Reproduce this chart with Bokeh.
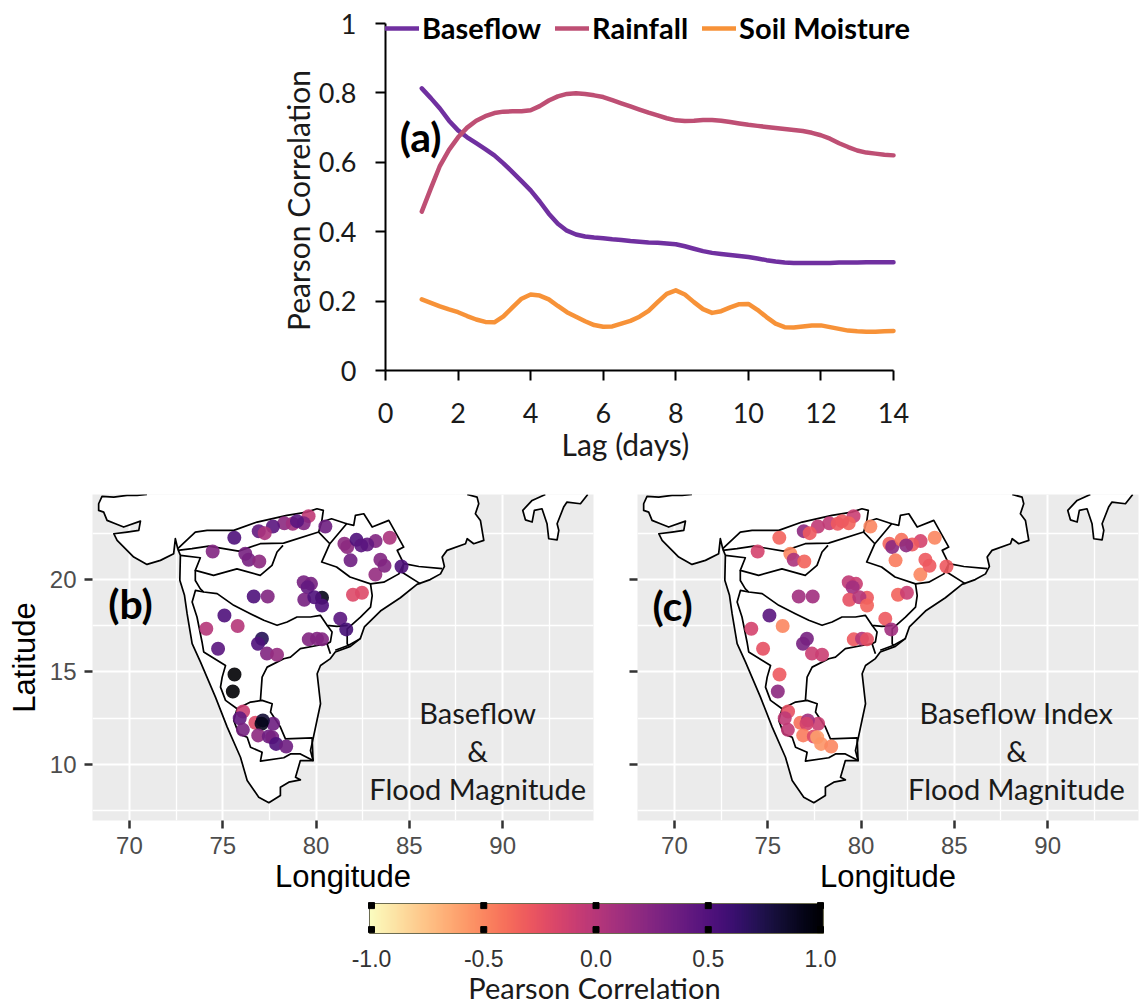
from bokeh.embed import file_html
from bokeh.resources import INLINE
from bokeh.plotting import figure
from bokeh.layouts import column, row
from bokeh.models import (FixedTicker, Label, Legend, LegendItem, LinearColorMapper, Range1d)
from bokeh.palettes import Magma256
from bokeh.transform import transform
import numpy as np

# ---- panel (a): lagged correlation, read at quarter-day steps
LAG = [1, 1.25, 1.5, 1.75, 2, 2.25, 2.5, 2.75, 3, 3.25, 3.5, 3.75, 4, 4.25, 4.5, 4.75, 5, 5.25, 5.5, 5.75, 6, 6.25, 6.5, 6.75, 7, 7.25, 7.5, 7.75, 8, 8.25, 8.5, 8.75, 9, 9.25, 9.5, 9.75, 10, 10.25, 10.5, 10.75, 11, 11.25, 11.5, 11.75, 12, 12.25, 12.5, 12.75, 13, 13.25, 13.5, 13.75, 14]
BASEFLOW = [.813, .785, .755, .72, .692, .672, .655, .638, .62, .597, .572, .546, .519, .487, .452, .423, .403, .392, .386, .383, .381, .378, .376, .373, .371, .369, .368, .366, .364, .358, .351, .344, .339, .336, .333, .33, .327, .323, .318, .314, .311, .31, .31, .31, .31, .31, .311, .311, .311, .312, .312, .312, .312]
RAINFALL = [.458, .525, .59, .636, .672, .70, .72, .733, .742, .746, .747, .747, .75, .762, .778, .79, .797, .799, .797, .793, .788, .779, .77, .761, .752, .743, .735, .727, .721, .719, .72, .722, .722, .72, .716, .712, .708, .705, .702, .699, .696, .693, .69, .685, .678, .668, .655, .644, .634, .628, .625, .622, .62]
SOIL = [.205, .195, .185, .176, .168, .157, .147, .14, .139, .156, .182, .207, .219, .216, .205, .186, .168, .155, .142, .131, .126, .127, .135, .143, .155, .172, .197, .221, .231, .219, .197, .177, .166, .171, .182, .191, .192, .175, .154, .135, .125, .124, .127, .13, .13, .125, .12, .115, .113, .112, .112, .113, .114]
X_TICKS = [0, 2, 4, 6, 8, 10, 12, 14]
Y_TICKS = [0, 0.2, 0.4, 0.6, 0.8, 1]
Y_LABELS = ["0", "0.2", "0.4", "0.6", "0.8", "1"]

# ---- panels (b), (c): stations and the correlation at each
ST_LON = [79.60, 80.50, 78.30, 78.75, 79.34, 78.98, 77.69, 76.93, 77.25, 75.62, 74.46, 76.21, 76.39, 76.96, 79.34, 79.73, 79.55, 79.37, 80.32, 79.91, 80.32, 76.66, 77.41, 75.09, 74.12, 75.80, 77.10, 76.89, 74.75, 77.37, 77.91, 79.61, 80.05, 80.32, 81.30, 81.62, 81.98, 82.46, 83.18, 83.95, 83.19, 81.52, 81.67, 82.17, 82.74, 82.42, 81.85, 83.45, 83.67, 84.58, 75.63, 75.54, 76.09, 75.91, 76.08, 76.75, 77.70, 77.15, 77.08, 76.90, 77.47, 77.65, 77.86, 78.40]
ST_LAT = [23.42, 22.86, 23.04, 23.01, 23.04, 23.15, 22.86, 22.61, 22.50, 22.25, 21.51, 21.39, 21.06, 20.97, 19.85, 19.76, 19.58, 18.90, 19.01, 19.04, 18.59, 19.08, 19.08, 18.05, 17.33, 17.48, 16.79, 16.52, 16.25, 15.99, 15.93, 16.76, 16.80, 16.76, 17.88, 17.30, 19.17, 19.28, 20.26, 22.25, 22.07, 21.93, 21.75, 22.14, 21.89, 21.84, 21.03, 21.06, 20.74, 20.70, 14.86, 13.94, 12.86, 12.50, 11.87, 12.25, 12.20, 12.38, 12.20, 11.57, 11.51, 11.47, 11.11, 10.97]
R_BASEFLOW = [-.05, .35, .2, .1, .25, .45, .45, .4, .05, .5, .25, .3, .3, .2, .3, .3, .4, .3, .9, .5, .5, .5, .25, .5, 0, 0, .7, .5, .45, .25, .15, .25, .25, .25, .45, .55, -.2, -.2, .15, .05, .25, .2, .2, .5, .4, .45, .35, .25, .25, .5, 1, 1, -.1, .4, .3, -.2, .35, .8, .9, .2, .35, .3, .5, .35]
R_BFI = [-.1, -.5, -.05, -.3, -.35, -.3, -.05, .2, -.3, -.35, -.15, -.5, .05, -.35, -.05, -.1, .1, -.25, -.3, 0, -.35, .1, .1, .45, -.15, -.5, .3, .3, -.25, -.1, -.1, -.3, 0, -.25, -.3, .1, -.35, -.1, -.5, -.5, -.15, -.35, .2, -.4, -.3, .2, -.45, -.3, -.3, -.3, -.3, .2, -.25, -.05, -.05, -.4, -.1, .1, -.15, -.45, -.2, -.6, -.55, -.5]

COAST_LON = [70.94, 70.41, 69.87, 69.16, 68.53, 68.35, 68.35, 68.62, 68.80, 69.25, 69.69, 70.59, 70.50, 69.87, 69.16, 69.34, 70.23, 70.94, 71.66, 72.37, 72.46, 72.59, 72.73, 72.70, 72.95, 73.09, 73.36, 73.81, 74.61, 75.24, 75.95, 76.31, 76.93, 77.47, 78.09, 78.09, 78.54, 79.16, 78.90, 79.16, 79.84, 79.70, 79.84, 80.24, 80.06, 80.24, 80.77, 81.03, 81.84, 82.37, 82.59, 83.45, 84.52, 85.41, 86.12, 86.67, 86.88, 86.76, 87.02, 88.01, 88.10, 88.45, 88.99, 88.81, 88.54, 88.72, 88.63, 88.10]
COAST_LAT = [24.59, 24.54, 24.54, 24.45, 24.49, 24.09, 23.73, 23.64, 23.19, 23.01, 22.83, 23.15, 22.65, 22.56, 22.47, 22.11, 21.21, 20.81, 21.03, 21.39, 22.20, 21.66, 21.30, 19.95, 19.14, 18.15, 16.53, 15.53, 13.64, 12.02, 10.39, 9.13, 8.23, 7.93, 8.32, 8.77, 9.04, 9.17, 9.31, 10.21, 10.21, 10.75, 11.38, 13.28, 14.90, 15.35, 15.72, 16.08, 16.38, 16.80, 17.43, 18.29, 19.01, 19.73, 19.99, 20.30, 20.70, 21.21, 21.57, 21.93, 22.20, 21.93, 22.11, 23.19, 23.55, 24.09, 24.45, 24.59]
EAST_LON = [92.29, 91.58, 91.08, 91.22, 91.58, 91.70, 92.11, 92.38, 92.47, 92.92, 93.01, 92.92, 93.27, 93.45, 94.17, 94.56]
EAST_LAT = [24.59, 24.27, 23.73, 23.22, 23.10, 23.73, 23.82, 23.01, 22.20, 22.14, 22.65, 23.01, 23.91, 24.18, 24.09, 24.59]
NARMADA_LON = [72.59, 73.53, 74.16, 75.59, 76.84, 78.44, 79.51, 80.05, 80.39, 80.30, 80.14, 78.26, 77.01, 75.85, 74.25, 73.35, 72.59]
NARMADA_LAT = [21.66, 22.56, 22.65, 22.65, 23.10, 23.46, 23.64, 23.82, 23.73, 23.10, 22.56, 21.96, 21.93, 21.53, 21.80, 21.66, 21.57]
TAPI_LON = [72.73, 73.80, 73.53, 74.51, 75.76, 77.01, 77.64, 77.91, 78.23]
TAPI_LAT = [21.30, 21.17, 20.49, 20.22, 20.57, 20.22, 20.76, 21.48, 21.84]
MAHANADI_TOP_LON = [80.30, 80.83, 81.64, 82.02, 82.11, 82.56, 83.01, 83.90, 84.70, 84.35, 84.70, 85.51, 86.76]
MAHANADI_TOP_LAT = [23.10, 23.28, 23.01, 22.92, 23.46, 23.55, 22.83, 23.19, 21.75, 21.57, 20.85, 20.70, 20.58]
MAHANADI_LOW_LON = [80.14, 80.74, 81.64, 80.74, 80.30, 81.10, 81.82, 82.92, 83.63, 84.44, 84.70, 84.61, 85.60]
MAHANADI_LOW_LAT = [22.56, 21.93, 23.01, 21.93, 20.94, 20.67, 20.13, 19.76, 19.85, 20.30, 20.85, 20.39, 19.76]
GODAVARI_LON = [73.53, 73.53, 73.80, 73.98, 74.70, 75.59, 76.48, 77.20, 77.91, 78.45, 78.98, 79.70, 80.23, 80.59, 81.12, 81.70]
GODAVARI_LAT = [20.49, 19.94, 19.49, 19.32, 19.23, 18.60, 18.15, 17.79, 17.52, 17.70, 17.97, 17.97, 18.06, 17.52, 17.46, 17.52]
GODAVARI_E_LON = [82.92, 83.01, 82.92, 82.38, 81.67, 81.67, 81.75, 82.37]
GODAVARI_E_LAT = [19.76, 19.13, 18.50, 17.96, 17.33, 16.52, 16.44, 16.80]
KRISHNA_W_LON = [73.98, 73.54, 73.36, 73.62, 73.89, 73.98, 75.15, 74.97, 74.88, 75.15, 75.77]
KRISHNA_W_LAT = [19.32, 19.41, 18.78, 17.97, 16.62, 16.08, 15.35, 14.72, 14.18, 13.46, 13.01]
KRISHNA_S_LON = [77.02, 77.11, 77.38, 78.27, 78.63, 79.16, 80.06, 80.59, 80.77]
KRISHNA_S_LAT = [13.46, 14.72, 15.26, 15.71, 15.80, 16.26, 16.43, 16.53, 15.98]
KRISHNA_E_LON = [80.59, 80.86, 80.77, 80.59]
KRISHNA_E_LAT = [17.52, 17.16, 16.62, 16.53]
DELTA_LON = [81.75, 81.03]
DELTA_LAT = [16.44, 16.17]
CAUVERY_LON = [75.77, 76.49, 77.11, 77.65, 77.56, 78.09, 78.36, 79.79, 79.84, 79.16, 78.63, 78.27, 77.02, 77.11, 76.49, 76.31, 75.86, 75.59, 75.77]
CAUVERY_LAT = [13.01, 13.37, 13.46, 13.28, 12.83, 12.02, 11.38, 11.44, 10.21, 10.57, 10.57, 10.36, 10.18, 10.66, 10.93, 11.47, 11.65, 12.38, 13.01]
LON_TICKS = [70, 75, 80, 85, 90]
LON_MINOR = [72.5, 77.5, 82.5, 87.5, 92.5]
LAT_TICKS = [10, 15, 20]
LAT_MINOR = [7.5, 12.5, 17.5, 22.5]
TOP_LAT = 24.9
CB_TICKS = [-1.0, -0.5, 0.0, 0.5, 1.0]

mapper = LinearColorMapper(palette=Magma256[::-1], low=-1, high=1)
CAL = "Lato"
ARIAL = "Liberation Sans"

# ================= panel (a): the frame fills the figure, so axes sit at 0 and titles are labels in it
pa = figure(width=1142, height=478, min_border_left=0, min_border_right=0, min_border_top=0, min_border_bottom=0,
            x_range=Range1d(-10.61, 20.862), y_range=Range1d(-0.3112, 1.0663), output_backend="svg", toolbar_location=None, frame_align=False)
pa.grid.visible = False
pa.outline_line_color = None
for ax, ticks in ((pa.xaxis[0], X_TICKS), (pa.yaxis[0], Y_TICKS)):
    ax.ticker = FixedTicker(ticks=ticks)
    ax.fixed_location = 0
    ax.axis_line_color = "black"
    ax.axis_line_width = 2
    ax.major_tick_line_color = "black"
    ax.major_tick_line_width = 2
    ax.major_tick_out = 10
    ax.major_tick_in = 0
    ax.minor_tick_line_color = None
    ax.major_label_text_font = CAL
    ax.major_label_text_font_size = "27px"
    ax.major_label_text_color = "#1a1a1a"
pa.xaxis[0].bounds = (0, 14)
pa.yaxis[0].bounds = (0, 1)
pa.xaxis[0].major_label_standoff = 22
pa.yaxis[0].major_label_standoff = 19
pa.yaxis[0].major_label_orientation = "horizontal"
pa.yaxis[0].major_label_overrides = {t: s for t, s in zip(Y_TICKS, Y_LABELS)}
r1 = pa.line(LAG, BASEFLOW, line_color="#7030A0", line_width=4.5, line_join="round", line_cap="round")
r2 = pa.line(LAG, RAINFALL, line_color="#BE4F74", line_width=4.5, line_join="round", line_cap="round")
r3 = pa.line(LAG, SOIL, line_color="#F79238", line_width=4.5, line_join="round", line_cap="round")
leg = Legend(items=[LegendItem(label="Baseflow", renderers=[r1]), LegendItem(label="Rainfall", renderers=[r2]), LegendItem(label="Soil Moisture", renderers=[r3])],
             orientation="horizontal", location=(385, 433), margin=0, padding=0, spacing=14, glyph_width=34, glyph_height=30,
             label_height=30, label_standoff=3, label_text_font=CAL, label_text_font_size="29px", label_text_font_style="bold",
             label_text_color="black", background_fill_alpha=0, border_line_color=None)
pa.add_layout(leg, "center")
pa.add_layout(Label(x=6.61, y=-0.2104, text="Lag (days)", text_font=CAL, text_font_size="30px", text_color="#1a1a1a", text_align="center", text_baseline="middle"))
pa.add_layout(Label(x=-2.425, y=0.49, angle=90, angle_units="deg", text="Pearson Correlation", text_font=CAL, text_font_size="30px", text_color="#1a1a1a", text_align="center", text_baseline="middle"))
pa.add_layout(Label(x=0.97, y=0.674, text="(a)", text_font=CAL, text_font_size="41px", text_font_style="bold", text_color="black", text_align="center", text_baseline="middle"))

# ================= maps
OUTLINES = [(COAST_LON, COAST_LAT), (EAST_LON, EAST_LAT), (NARMADA_LON, NARMADA_LAT), (TAPI_LON, TAPI_LAT),
            (MAHANADI_TOP_LON, MAHANADI_TOP_LAT), (MAHANADI_LOW_LON, MAHANADI_LOW_LAT), (GODAVARI_LON, GODAVARI_LAT),
            (GODAVARI_E_LON, GODAVARI_E_LAT), (KRISHNA_W_LON, KRISHNA_W_LAT), (KRISHNA_S_LON, KRISHNA_S_LAT),
            (KRISHNA_E_LON, KRISHNA_E_LAT), (DELTA_LON, DELTA_LAT), (CAUVERY_LON, CAUVERY_LAT)]


def make_map(width, left, right, values, tag, tag_lon, tag_lat, lines, text_lon, ylabels):
    p = figure(width=width, height=420, min_border_left=left, min_border_right=right, min_border_top=16, min_border_bottom=78,
               x_range=Range1d(68.02, 94.87), y_range=Range1d(6.97, 24.59), output_backend="svg", toolbar_location=None, frame_align=False)
    p.background_fill_color = "#EBEBEB"
    p.outline_line_color = None
    for g, ticks, minor in ((p.xgrid[0], LON_TICKS, LON_MINOR), (p.ygrid[0], LAT_TICKS, LAT_MINOR)):
        g.ticker = FixedTicker(ticks=ticks, minor_ticks=minor)
        g.grid_line_color = "white"
        g.grid_line_width = 2
        g.minor_grid_line_color = "white"
        g.minor_grid_line_width = 1.3
    for ax, ticks, minor in ((p.xaxis[0], LON_TICKS, LON_MINOR), (p.yaxis[0], LAT_TICKS, LAT_MINOR)):
        ax.ticker = FixedTicker(ticks=ticks, minor_ticks=minor)
        ax.axis_line_color = None
        ax.major_tick_line_color = "#333333"
        ax.major_tick_line_width = 2.5
        ax.major_tick_out = 8
        ax.major_tick_in = 0
        ax.minor_tick_line_color = None
        ax.major_label_text_font = ARIAL
        ax.major_label_text_font_size = "24px"
        ax.major_label_text_color = "#4D4D4D"
        ax.axis_label_text_font = ARIAL
        ax.axis_label_text_font_size = "31px"
        ax.axis_label_text_font_style = "normal"
        ax.axis_label_text_color = "black"
    p.xaxis[0].axis_label = "Longitude"
    p.xaxis[0].major_label_standoff = 8
    p.xaxis[0].axis_label_standoff = 2
    p.yaxis[0].major_label_standoff = 8
    p.yaxis[0].major_label_orientation = "horizontal"
    if ylabels:
        p.yaxis[0].axis_label = "Latitude"
        p.yaxis[0].axis_label_standoff = 5
    else:
        p.yaxis[0].major_label_overrides = {t: "" for t in LAT_TICKS}
    land_x = COAST_LON + [COAST_LON[-1], COAST_LON[0]]
    land_y = COAST_LAT + [TOP_LAT, TOP_LAT]
    p.patch(land_x, land_y, fill_color="white", line_color=None)
    p.patch(EAST_LON + [EAST_LON[-1], EAST_LON[0]], EAST_LAT + [TOP_LAT, TOP_LAT], fill_color="white", line_color=None)
    p.multi_line([o[0] for o in OUTLINES], [o[1] for o in OUTLINES], line_color="black", line_width=1.7, line_join="round")
    data = dict(x=ST_LON, y=ST_LAT, v=values)
    p.scatter("x", "y", source=data, size=14, marker="circle", fill_color=transform("v", mapper), line_color=None, fill_alpha=0.9)
    p.add_layout(Label(x=tag_lon, y=tag_lat, text=tag, text_font=CAL, text_font_size="41px", text_font_style="bold", text_color="black", text_align="center", text_baseline="middle"))
    for lat, t in zip((12.8, 10.75, 8.72), lines):
        p.add_layout(Label(x=text_lon, y=lat, text=t, text_font=CAL, text_font_size="29px", text_color="#1a1a1a", text_align="center", text_baseline="middle"))
    return p


pb = make_map(605, 92, 12, R_BASEFLOW, "(b)", 70.06, 18.7, ["Baseflow", "&", "Flood Magnitude"], 88.66, True)
pc = make_map(537, 32, 4, R_BFI, "(c)", 69.9, 18.6, ["Baseflow Index", "&", "Flood Magnitude"], 88.33, False)

# ================= colour bar: frame fills the figure, bar spans y 0..1 and the title is a label in it
cb = figure(width=1142, height=106, min_border_left=0, min_border_right=0, min_border_top=0, min_border_bottom=0,
            x_range=Range1d(-2.6526, 2.4343), y_range=Range1d(-2.367, 1.1667), output_backend="svg", toolbar_location=None, frame_align=False)
cb.grid.visible = False
cb.yaxis.visible = False
cb.outline_line_color = None
cb.image(image=[np.linspace(-1, 1, 256)[None, :]], x=-1.009, y=0, dw=2.022, dh=1, color_mapper=mapper)
cb.quad(left=[-1.009], right=[1.013], bottom=[0], top=[1], fill_color=None, line_color="#6B6B50", line_width=1)
cb.scatter(CB_TICKS, [0.93] * 5, marker="square", size=6, color="black")
cb.scatter(CB_TICKS, [0.13] * 5, marker="square", size=6, color="black")
ax = cb.xaxis[0]
ax.fixed_location = 0
ax.ticker = FixedTicker(ticks=CB_TICKS)
ax.major_label_overrides = {t: f"{t:.1f}" for t in CB_TICKS}
ax.axis_line_color = None
ax.major_tick_line_color = None
ax.minor_tick_line_color = None
ax.major_label_text_font = ARIAL
ax.major_label_text_font_size = "23px"
ax.major_label_text_color = "#333333"
ax.major_label_standoff = 11
cb.add_layout(Label(x=-0.007, y=-1.8, text="Pearson Correlation", text_font=CAL, text_font_size="29px", text_color="#1a1a1a", text_align="center", text_baseline="middle"))

layout = column(pa, row(pb, pc), cb)
open("out.html", "w").write(file_html(layout, INLINE))
